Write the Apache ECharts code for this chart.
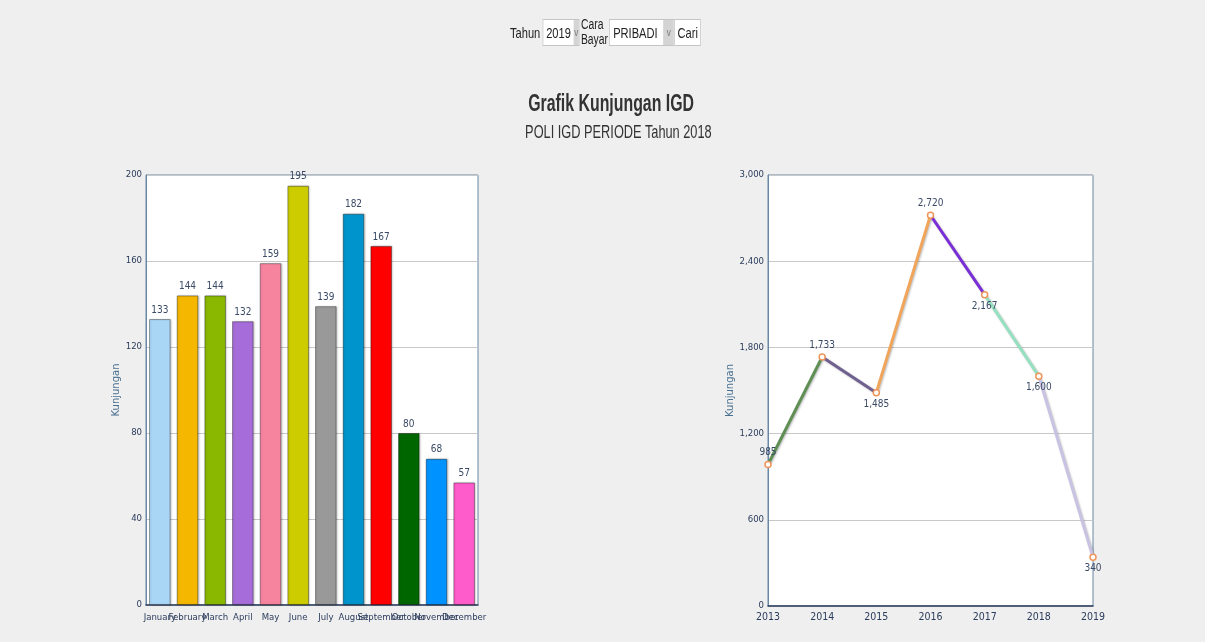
<!DOCTYPE html>
<html>
<head>
<meta charset="utf-8">
<script src="https://cdn.jsdelivr.net/npm/echarts@6/dist/echarts.min.js"></script>
<style>
  html,body{margin:0;padding:0;width:1205px;height:642px;background:#efefef;overflow:hidden;}
  #chart{position:absolute;left:0;top:0;width:1205px;height:642px;}
  #ctrl{position:absolute;top:17px;left:510px;height:30px;display:flex;align-items:center;font-family:'Liberation Sans',Arial,sans-serif;font-size:15px;color:#222;z-index:2;transform:scaleX(0.74);transform-origin:0 50%;white-space:nowrap;}
  .sel{display:flex;align-items:center;height:27px;border:1px solid #c4c4c4;background:#fff;box-sizing:border-box;}
  .sel span{padding:0 4px;}
  .arr{width:14px;height:25px;background:#d4d4d4;display:flex;align-items:center;justify-content:center;font-size:11px;color:#777;}
  .two{display:flex;flex-direction:column;line-height:15px;margin:0 2px;font-size:14px;}
  .btn{height:27px;border:1px solid #c4c4c4;background:#fff;box-sizing:border-box;padding:0 3px;display:flex;align-items:center;}
  .ttl{position:absolute;left:0;width:1205px;text-align:center;font-family:'Liberation Sans',Arial,sans-serif;color:#333;z-index:2;}
  .ttl span{display:inline-block;white-space:nowrap;}
</style>
</head>
<body>
<div id="ctrl">
  <span style="margin-right:3px">Tahun</span>
  <div class="sel" style="width:50px"><span style="flex:1">2019</span><div class="arr">v</div></div>
  <div class="two"><span>Cara</span><span>Bayar</span></div>
  <div class="sel" style="width:88px"><span style="flex:1">PRIBADI</span><div class="arr">v</div></div>
  <div class="btn">Cari</div>
</div>
<div class="ttl" style="top:90px;left:9px;font-size:23px;font-weight:bold;"><span style="transform:scaleX(0.69)">Grafik Kunjungan IGD</span></div>
<div class="ttl" style="top:122px;left:16px;font-size:18px;"><span style="transform:scaleX(0.71)">POLI IGD PERIODE Tahun 2018</span></div>
<div id="chart"></div>
<script>
// ---- data ----
const months = ['January','February','March','April','May','June','July','August','September','October','November','December'];
const monthValues = [133,144,144,132,159,195,139,182,167,80,68,57];
const years = ['2013','2014','2015','2016','2017','2018','2019'];
const yearValues = [985,1733,1485,2720,2167,1600,340];
const barTicks = [0,40,80,120,160,200];
const lineTicks = [0,600,1200,1800,2400,3000];

// ---- styles ----
const FONT = "'DejaVu Sans Condensed','Liberation Sans',Arial,sans-serif";
const barColors = ['#a9d6f5','#f5b700','#8ab800','#a66cd9','#f7849f','#cccc00','#999999','#0094cc','#ff0000','#006600','#0092ff','#ff5ccb'];
const segColors = ['#5f8f55','#6f6090','#f0a55a','#7a2ed6','#95e0c0','#c9c2e2'];
const labelPos = ['top','top','bottom','top','bottom','bottom','bottom'];
const axisLblColor = '#2b3c5c';
const nameColor = '#4b7192';

const chart = echarts.init(document.getElementById('chart'));

const segSeries = segColors.map((c, i) => ({
  type: 'line',
  xAxisIndex: 1, yAxisIndex: 1,
  data: yearValues.map((v, j) => (j === i || j === i + 1) ? v : null),
  symbol: 'none',
  lineStyle: {color: c, width: 3, shadowColor: 'rgba(0,0,0,0.25)', shadowBlur: 2, shadowOffsetX: 1, shadowOffsetY: 1},
  silent: true, z: 2
}));

const fmt = v => Number(v).toLocaleString('en-US');

chart.setOption({
  animation: false,
  textStyle: {fontFamily: FONT},
  grid: [
    {left: 146, right: 727, top: 175, bottom: 37, show: true, backgroundColor: '#fff', borderColor: '#6a88a6', borderWidth: 1},
    {left: 768, right: 112, top: 175, bottom: 36, show: true, backgroundColor: '#fff', borderColor: '#6a88a6', borderWidth: 1}
  ],
  xAxis: [
    {type: 'category', gridIndex: 0, data: months,
     axisLine: {lineStyle: {color: '#2b3c5c', width: 1.5}}, axisTick: {show: false},
     axisLabel: {color: axisLblColor, fontSize: 9.5, interval: 0, margin: 8, fontFamily: FONT}},
    {type: 'category', gridIndex: 1, data: years, boundaryGap: false,
     axisLine: {lineStyle: {color: '#2b3c5c', width: 1.5}}, axisTick: {show: false},
     axisLabel: {color: axisLblColor, fontSize: 10.5, margin: 6, fontFamily: FONT}}
  ],
  yAxis: [
    {type: 'value', gridIndex: 0, min: barTicks[0], max: barTicks[barTicks.length-1], interval: barTicks[1]-barTicks[0],
     name: 'Kunjungan', nameLocation: 'middle', nameGap: 21, nameTextStyle: {color: nameColor, fontSize: 10, fontFamily: 'DejaVu Sans'},
     axisLine: {show: true, lineStyle: {color: '#6a88a6'}}, axisTick: {show: false},
     axisLabel: {color: axisLblColor, fontSize: 9.5, margin: 4, fontFamily: FONT},
     splitLine: {lineStyle: {color: '#c8c8c8'}}},
    {type: 'value', gridIndex: 1, min: lineTicks[0], max: lineTicks[lineTicks.length-1], interval: lineTicks[1]-lineTicks[0],
     name: 'Kunjungan', nameLocation: 'middle', nameGap: 19, nameTextStyle: {color: nameColor, fontSize: 10, fontFamily: 'DejaVu Sans'},
     axisLine: {show: true, lineStyle: {color: '#6a88a6'}}, axisTick: {show: false},
     axisLabel: {color: axisLblColor, fontSize: 9.5, margin: 4, fontFamily: FONT, formatter: v => fmt(v)},
     splitLine: {lineStyle: {color: '#c8c8c8'}}}
  ],
  series: [
    {type: 'bar', xAxisIndex: 0, yAxisIndex: 0,
     data: monthValues.map((v, i) => ({value: v, itemStyle: {color: barColors[i]}})),
     barCategoryGap: '22%',
     itemStyle: {borderColor: 'rgba(0,0,0,0.35)', borderWidth: 1, shadowColor: 'rgba(0,0,0,0.25)', shadowBlur: 2, shadowOffsetX: 1},
     label: {show: true, position: 'top', color: '#3a4a66', fontSize: 10, distance: 4, fontFamily: FONT}},
    ...segSeries,
    {type: 'line', xAxisIndex: 1, yAxisIndex: 1,
     data: yearValues.map((v, i) => ({value: v, label: {position: labelPos[i]}})),
     lineStyle: {opacity: 0}, symbol: 'circle', symbolSize: 6,
     itemStyle: {color: '#fff', borderColor: '#f0955a', borderWidth: 1.5},
     label: {show: true, color: '#3a4a66', fontSize: 10, distance: 3, fontFamily: FONT, formatter: p => fmt(p.value)},
     z: 5}
  ]
});
</script>
</body>
</html>
